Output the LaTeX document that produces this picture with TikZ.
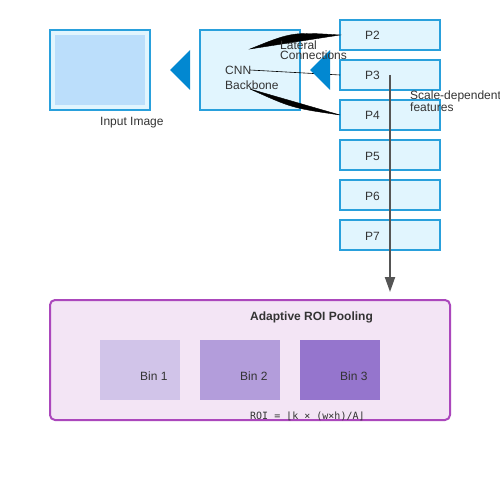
\documentclass[tikz,border=0pt]{standalone}
\usepackage{fontspec}
\setmainfont{Liberation Sans}
\newfontfamily\monofont{DejaVu Sans Mono}
\usetikzlibrary{arrows.meta}
\definecolor{boxfill}{HTML}{E1F5FE}
\definecolor{boxline}{HTML}{29A0DC}
\definecolor{imgfill}{HTML}{BBDEFB}
\definecolor{triblue}{HTML}{0288D1}
\definecolor{txt}{HTML}{333333}
\definecolor{arrowgray}{HTML}{555555}
\definecolor{roifill}{HTML}{F3E5F5}
\definecolor{roiline}{HTML}{AB47BC}
\definecolor{binA}{HTML}{D1C4E9}
\definecolor{binB}{HTML}{B39DDB}
\definecolor{binC}{HTML}{9575CD}
\tikzset{
  x=1pt, y=-1pt,
  bluebox/.style={draw=boxline, fill=boxfill, line width=2pt},
  lbl/.style={anchor=base west, inner sep=0pt, text=txt, font=\fontsize{12}{14}\selectfont},
  tri/.style={fill=triblue},
  wedge/.style={fill=black, draw=black, line width=0.4pt},
}
\begin{document}
\begin{tikzpicture}
\useasboundingbox (0,0) rectangle (500,500);
\fill[white] (0,0) rectangle (500,500);
% input image
\draw[bluebox] (50,30) rectangle (150,110);
\fill[imgfill] (55,35) rectangle (145,105);
\node[lbl] (inlbl) at (100,125) {Input Image};
% triangles
\fill[tri] (170,70) -- (190,50) -- (190,90) -- cycle;
% CNN
\draw[bluebox] (200,30) rectangle (300,110);
\node[lbl] (cnn1) at (225,75) {CNN};
\node[lbl] (cnn2) at (225,90) {Backbone};
% P boxes
\foreach \i/\t in {0/P2,1/P3,2/P4,3/P5,4/P6,5/P7}{
  \draw[bluebox] (340,20+40*\i) rectangle (440,50+40*\i);
  \node[lbl] (p\i) at (365,40+40*\i) {\t};
}
% lateral connections
\coordinate (la) at (250,49);
\coordinate (lb) at (250,70);
\coordinate (lc) at (250,89);
\coordinate (ra) at (340,35);
\coordinate (rb) at (340,75);
\coordinate (rc) at (340,115);
\fill[wedge] (la) .. controls (292,32) .. (ra) -- cycle;
\draw[black, line width=0.6pt] (lb) .. controls (295,72) .. (rb);
\fill[wedge] (lc) .. controls (292,108) .. (rc) -- cycle;
\fill[tri] (310,70) -- (330,50) -- (330,90) -- cycle;
\node[lbl] (lat1) at (280,50) {Lateral};
\node[lbl] (lat2) at (280,60) {Connections};
% vertical arrow
\coordinate (vs) at (390,75);
\coordinate (ve) at (390,292);
\draw[arrowgray, line width=2pt, -{Triangle[length=15pt,width=10pt]}] (vs) -- (ve);
\node[lbl] (sd1) at (410,100) {Scale-dependent};
\node[lbl] (sd2) at (410,112) {features};
% ROI pooling
\draw[draw=roiline, fill=roifill, line width=2pt, rounded corners=5pt] (50,300) rectangle (450,420);
\node[lbl, font=\fontsize{12}{14}\selectfont\bfseries] (roit) at (250,320) {Adaptive ROI Pooling};
\fill[binA] (100,340) rectangle (180,400);
\fill[binB] (200,340) rectangle (280,400);
\fill[binC] (300,340) rectangle (380,400);
\node[lbl] (b1) at (140,380) {Bin 1};
\node[lbl] (b2) at (240,380) {Bin 2};
\node[lbl] (b3) at (340,380) {Bin 3};
\node[lbl, font=\fontsize{10}{12}\monofont] (form) at (250,419) {ROI = ⌊k × (w×h)/A⌋};
\end{tikzpicture}
\end{document}
